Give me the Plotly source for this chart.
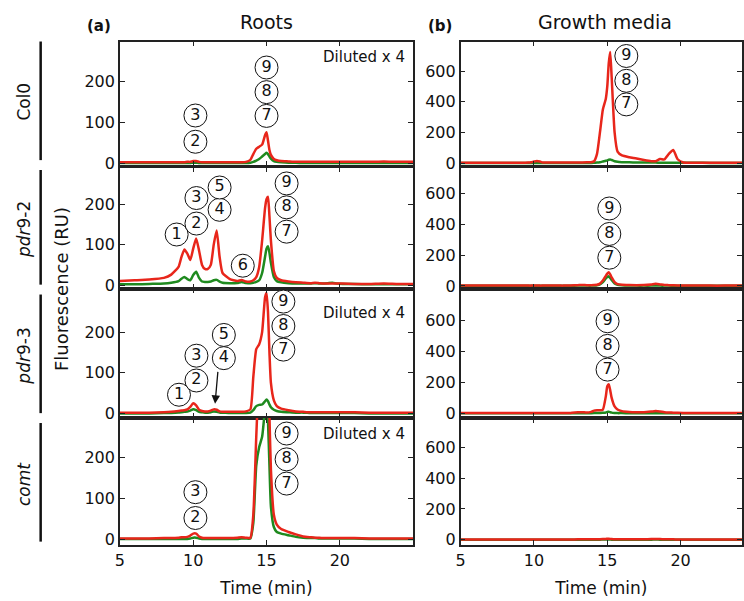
import plotly.graph_objects as go

# ---------------- data ----------------
T = [5, 6, 7, 8, 8.5, 9, 9.2, 9.4, 9.6, 9.8, 10.0, 10.2, 10.4, 10.6, 10.8,
     11.0, 11.2, 11.4, 11.6, 11.8, 12.0, 12.5, 13.0, 13.3, 13.6,
     13.9, 14.1, 14.3, 14.5, 14.7, 14.9, 15.0, 15.1, 15.2, 15.3,
     15.5, 15.7, 16.0, 16.5, 17.0, 17.5, 18.0, 18.3, 18.6, 18.9,
     19.2, 19.5, 19.8, 20.2, 21, 22, 23, 24, 25]

roots_col0_red = [2, 2, 2, 2, 2, 2, 2, 2, 3, 3, 5, 5, 3, 2, 2, 2, 2, 2, 2, 2, 2, 2, 2, 2, 3,
                  8, 22, 35, 40, 45, 68, 75, 55, 32, 20, 10, 7, 5, 4, 3, 3, 3, 3, 3, 3,
                  3, 3, 3, 3, 3, 3, 4, 3, 3]
roots_col0_green = [0, 0, 0, 0, 0, 0, 0, 0, 0, 0, 1, 1, 0, 0, 0, 0, 0, 0, 0, 0, 0, 0, 0, 0, 0,
                    1, 3, 6, 10, 16, 22, 25, 22, 16, 11, 5, 3, 2, 1, 1, 0, 0, 0, 0, 0,
                    0, 0, 0, 0, 0, 0, 0, 0, 0]

roots_pdr92_red = [10, 12, 14, 18, 26, 45, 70, 88, 78, 62, 90, 115, 85, 50, 40,
                   40, 50, 100, 135, 70, 30, 15, 10, 13, 9,
                   9, 12, 20, 45, 110, 190, 212, 218, 170, 110, 35, 18, 12, 9, 7,
                   6, 5, 6, 5, 4, 4, 4, 4, 4, 3, 3, 4, 3, 3]
roots_pdr92_green = [2, 2, 3, 4, 6, 10, 16, 20, 15, 12, 25, 33, 18, 9, 8,
                     8, 9, 12, 13, 9, 6, 5, 5, 8, 5,
                     5, 6, 8, 12, 30, 70, 90, 96, 80, 55, 20, 10, 7, 5, 4,
                     4, 4, 5, 4, 4, 5, 6, 4, 3, 3, 2, 2, 2, 2]

roots_pdr93_red = [2, 2, 2, 3, 4, 6, 7, 8, 10, 16, 25, 20, 9, 6, 5,
                   5, 7, 10, 9, 5, 4, 4, 4, 4, 5,
                   10, 90, 158, 170, 200, 285, 296, 250, 150, 75, 32, 18, 12, 8, 5,
                   4, 3, 3, 3, 3, 3, 3, 3, 3, 3, 2, 2, 2, 2]
roots_pdr93_green = [0, 0, 0, 1, 1, 2, 3, 4, 5, 7, 10, 8, 4, 3, 2,
                     2, 3, 5, 4, 2, 2, 1, 1, 1, 1,
                     2, 8, 18, 21, 22, 30, 34, 30, 22, 15, 9, 6, 4, 3, 2,
                     2, 1, 1, 1, 1, 1, 1, 1, 1, 1, 0, 0, 0, 0]

roots_comt_red = [2, 2, 2, 3, 3, 4, 5, 5, 6, 9, 14, 14, 7, 4, 3,
                  3, 3, 3, 3, 3, 3, 3, 4, 5, 4,
                  4, 60, 250, 420, 520, 560, 560, 450, 300, 170, 60, 36, 25, 18, 12,
                  7, 5, 4, 4, 3, 3, 3, 3, 3, 3, 2, 2, 2, 2]
roots_comt_green = [1, 1, 1, 1, 1, 1, 1, 1, 1, 2, 4, 4, 2, 1, 1,
                    1, 1, 1, 1, 1, 1, 1, 1, 2, 2,
                    2, 40, 180, 225, 250, 320, 360, 290, 180, 80, 30, 18, 14, 10, 6,
                    4, 3, 3, 2, 2, 2, 2, 2, 2, 2, 1, 1, 1, 1]

media_col0_red = [2, 2, 2, 2, 2, 2, 2, 2, 3, 5, 10, 14, 10, 4, 3,
                  3, 3, 3, 3, 3, 3, 3, 4, 4, 5,
                  6, 12, 60, 200, 350, 420, 500, 650, 725, 560, 200, 75, 50, 38, 30,
                  20, 12, 12, 26, 24, 60, 86, 25, 4, 2, 2, 2, 2, 2]
media_col0_green = [1, 1, 1, 1, 1, 1, 1, 1, 1, 1, 1, 1, 1, 1, 1,
                    1, 1, 1, 1, 1, 1, 1, 1, 1, 1,
                    1, 2, 3, 5, 10, 15, 18, 22, 24, 20, 12, 8, 6, 5, 4,
                    3, 3, 3, 2, 2, 2, 2, 2, 2, 2, 1, 1, 1, 1]

media_pdr92_red = [2, 2, 2, 2, 2, 2, 2, 2, 2, 2, 3, 3, 2, 2, 2,
                   2, 2, 2, 2, 2, 2, 3, 5, 6, 5,
                   5, 6, 8, 15, 35, 65, 80, 88, 75, 55, 25, 12, 8, 6, 5,
                   6, 10, 14, 10, 6, 5, 4, 3, 3, 3, 2, 2, 2, 2]
media_pdr92_green = [1, 1, 1, 1, 1, 1, 1, 1, 1, 1, 1, 1, 1, 1, 1,
                     1, 1, 1, 1, 1, 1, 1, 2, 2, 2,
                     2, 3, 5, 10, 25, 48, 58, 62, 52, 38, 16, 8, 5, 3, 2,
                     2, 2, 3, 2, 2, 2, 1, 1, 1, 1, 1, 1, 1, 1]

media_pdr93_red = [2, 2, 2, 2, 2, 2, 2, 2, 2, 2, 3, 3, 2, 2, 2,
                   2, 2, 2, 2, 2, 3, 3, 7, 8, 6,
                   10, 18, 20, 20, 25, 110, 175, 188, 150, 100, 45, 25, 15, 10, 8,
                   8, 12, 15, 12, 8, 6, 5, 4, 3, 3, 2, 2, 2, 2]
media_pdr93_green = [1, 1, 1, 1, 1, 1, 1, 1, 1, 1, 1, 1, 1, 1, 1,
                     1, 1, 1, 1, 1, 1, 1, 1, 1, 1,
                     1, 2, 3, 3, 4, 6, 10, 11, 8, 5, 3, 2, 2, 1, 1,
                     1, 1, 1, 1, 1, 1, 1, 1, 1, 1, 1, 1, 1, 1]

media_comt_red = [1, 1, 1, 1, 1, 1, 1, 1, 1, 1, 1, 1, 1, 1, 1,
                  1, 1, 1, 1, 1, 1, 1, 2, 2, 2,
                  2, 2, 3, 3, 4, 5, 6, 6, 5, 4, 3, 2, 2, 2, 2,
                  3, 4, 5, 4, 3, 2, 2, 1, 1, 1, 1, 1, 1, 1]
media_comt_green = [0, 0, 0, 0, 0, 0, 0, 0, 0, 0, 0, 0, 0, 0, 0,
                    0, 0, 0, 0, 0, 0, 0, 0, 0, 0,
                    0, 0, 0, 0, 1, 1, 1, 1, 1, 0, 0, 0, 0, 0, 0,
                    0, 0, 1, 0, 0, 0, 0, 0, 0, 0, 0, 0, 0, 0]

row_labels = ["Col0", "<i>pdr</i>9-2", "<i>pdr</i>9-3", "<i>comt</i>"]
column_titles = ["Roots", "Growth media"]
panel_letters = ["(a)", "(b)"]
left_ticks = [0, 100, 200]
right_ticks = [0, 200, 400, 600]
x_ticks = [5, 10, 15, 20]

# circled peak labels: (number, time, height) per panel
peak_labels = {
    (0, 0): [("3", 10.15, 116), ("2", 10.15, 52), ("9", 15.0, 233), ("8", 15.0, 173), ("7", 15.0, 115)],
    (1, 0): [("1", 8.87, 125), ("2", 10.22, 152), ("3", 10.22, 215), ("4", 11.8, 186), ("5", 11.8, 241),
             ("6", 13.38, 48), ("9", 16.37, 251), ("8", 16.37, 192), ("7", 16.37, 132)],
    (2, 0): [("1", 9.03, 46), ("2", 10.22, 81), ("3", 10.22, 142), ("4", 12.09, 136), ("5", 12.09, 193),
             ("9", 16.15, 275), ("8", 16.15, 215), ("7", 16.15, 157)],
    (3, 0): [("3", 10.15, 115), ("2", 10.15, 52), ("9", 16.37, 258), ("8", 16.37, 195), ("7", 16.37, 136)],
    (0, 1): [("9", 16.3, 699), ("8", 16.3, 537), ("7", 16.3, 383)],
    (1, 1): [("9", 15.14, 502), ("8", 15.14, 337), ("7", 15.14, 183)],
    (2, 1): [("9", 15.02, 595), ("8", 15.02, 436), ("7", 15.02, 283)],
}
diluted_rows = [0, 2, 3]
diluted_height = [258, None, 248, 258]

# ---------------- layout ----------------
W, H = 744, 601
FONT = "DejaVu Sans"
RED = "#e8261b"
GREEN = "#1f8a1f"
AX = "#222222"

rows_px = [(42, 168), (169, 292), (292, 423), (423, 551)]
cols_px = [(116, 412), (460, 744)]
y_ranges = [
    [[-7.2, 296.4], [-19.4, 793.5]],
    [[-8.5, 291.5], [-17.3, 771]],
    [[-11.4, 307], [-30, 806]],
    [[-12.8, 295.7], [-32, 791]],
]
x_ranges = [[5, 25], [5, 24.19]]

data = [
    [(roots_col0_red, roots_col0_green), (media_col0_red, media_col0_green)],
    [(roots_pdr92_red, roots_pdr92_green), (media_pdr92_red, media_pdr92_green)],
    [(roots_pdr93_red, roots_pdr93_green), (media_pdr93_red, media_pdr93_green)],
    [(roots_comt_red, roots_comt_green), (media_comt_red, media_comt_green)],
]

fig = go.Figure()
layout = dict(
    width=W, height=H, margin=dict(l=0, r=0, t=0, b=0),
    paper_bgcolor="white", plot_bgcolor="white", showlegend=False,
    font=dict(family=FONT, size=15, color="#111"),
)
annotations = []
shapes = []


def paper_text(text, px, py, size, angle=0):
    return dict(text=text, x=px / W, y=1 - py / H, xref="paper", yref="paper",
                xanchor="center", yanchor="middle", showarrow=False, textangle=angle,
                font=dict(size=size, color="#111"))


for r in range(4):
    for c in range(2):
        i = r * 2 + c + 1
        xn = "x" if i == 1 else f"x{i}"
        yn = "y" if i == 1 else f"y{i}"
        red, green = data[r][c]
        fig.add_trace(go.Scatter(x=T, y=green, xaxis=xn, yaxis=yn, mode="lines",
                                 line=dict(color=GREEN, width=2.5, shape="spline", smoothing=0.5),
                                 hoverinfo="skip"))
        fig.add_trace(go.Scatter(x=T, y=red, xaxis=xn, yaxis=yn, mode="lines",
                                 line=dict(color=RED, width=2.5, shape="spline", smoothing=0.5),
                                 hoverinfo="skip"))
        labs = peak_labels.get((r, c), [])
        if labs:
            fig.add_trace(go.Scatter(
                x=[l[1] for l in labs], y=[l[2] for l in labs], text=[l[0] for l in labs],
                xaxis=xn, yaxis=yn, mode="markers+text", textposition="middle center",
                textfont=dict(family=FONT, size=16, color="#111"),
                marker=dict(symbol="circle", size=23, color="white",
                            line=dict(color="#111", width=1)),
                cliponaxis=False, hoverinfo="skip"))
        x0, x1 = cols_px[c]
        y0, y1 = rows_px[r]
        layout["xaxis" + ("" if i == 1 else str(i))] = dict(
            domain=[x0 / W, x1 / W], range=x_ranges[c], anchor=yn,
            showline=True, linecolor=AX, linewidth=1.5, mirror="ticks",
            ticks="inside", ticklen=5, tickwidth=1, tickcolor=AX,
            tickvals=x_ticks, showticklabels=(r == 3), showgrid=False, zeroline=False,
            tickfont=dict(size=16),
            title=dict(text="Time (min)", font=dict(size=17), standoff=14) if r == 3 else None,
        )
        layout["yaxis" + ("" if i == 1 else str(i))] = dict(
            domain=[1 - y1 / H, 1 - y0 / H], range=y_ranges[r][c], anchor=xn,
            showline=True, linecolor=AX, linewidth=1.5, mirror="ticks",
            ticks="inside", ticklen=5, tickwidth=1, tickcolor=AX,
            tickvals=left_ticks if c == 0 else right_ticks,
            showgrid=False, zeroline=False, tickfont=dict(size=16),
        )
        if c == 0 and r in diluted_rows:
            annotations.append(dict(text="Diluted x 4", x=24.55, y=diluted_height[r],
                                    xref=xn, yref=yn, showarrow=False, xanchor="right",
                                    yanchor="middle", font=dict(size=15, color="#111")))
        if r == 2 and c == 0:
            annotations.append(dict(text="", x=11.49, y=24, ax=11.69, ay=106,
                                    xref=xn, yref=yn, axref=xn, ayref=yn, showarrow=True,
                                    arrowhead=2, arrowsize=1.3, arrowwidth=1.3, arrowcolor="#111"))

# column titles and panel letters
for c in range(2):
    annotations.append(paper_text(column_titles[c], [264, 606][c], 22, 19))
    annotations.append(paper_text("<b>" + panel_letters[c] + "</b>", [95, 439][c], 26, 15))

# y title
annotations.append(paper_text("Fluorescence (RU)", 57, 292, 18, -90))

# row labels with vertical bars
bar_px = [(42, 162), (172, 288), (298, 418), (428, 548)]
label_y = [103, 232, 360, 490]
for r in range(4):
    b0, b1 = bar_px[r]
    shapes.append(dict(type="line", xref="paper", yref="paper", x0=36 / W, x1=36 / W,
                       y0=1 - b0 / H, y1=1 - b1 / H, line=dict(color="#111", width=2.5)))
    annotations.append(paper_text(row_labels[r], 19, label_y[r], 17, -90))

layout["annotations"] = annotations
layout["shapes"] = shapes
fig.update_layout(**layout)
fig.write_html("out.html")
